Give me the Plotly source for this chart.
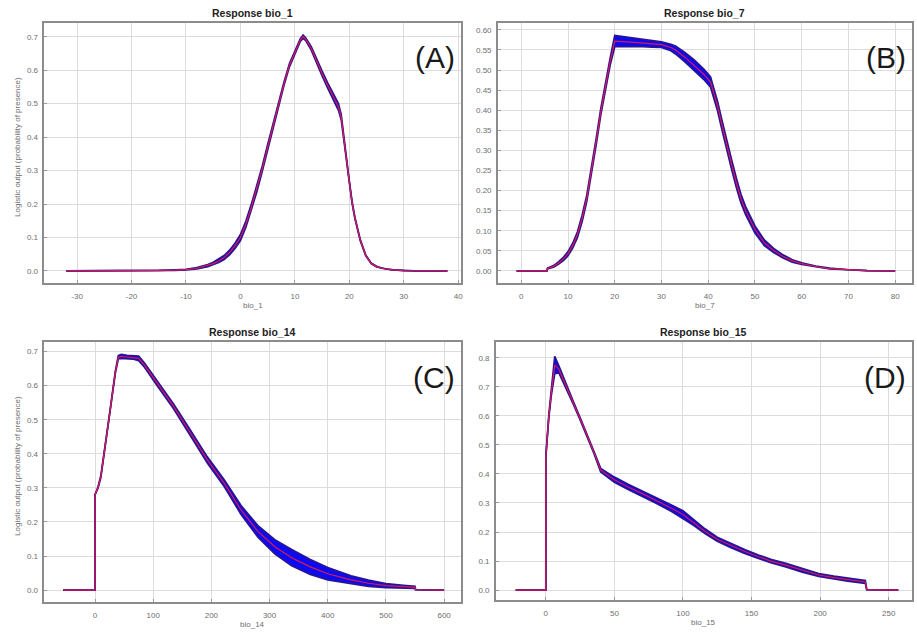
import plotly.graph_objects as go

W, H = 917, 634

# ---------------- data ----------------
titles = ["Response bio_1", "Response bio_7", "Response bio_14", "Response bio_15"]
xlabels = ["bio_1", "bio_7", "bio_14", "bio_15"]
panel_tags = ["(A)", "(B)", "(C)", "(D)"]
ylabel = "Logistic output (probability of presence)"

x_bio1 = [-32, -25, -20, -15, -12, -10, -8, -6, -5, -4,
          -3, -2, -1, 0, 1, 2, 3, 4, 5, 6,
          7, 8, 9, 10, 11, 11.5, 12, 13, 14, 15,
          16, 17, 18, 18.5, 19, 19.5, 20, 20.5, 21, 22,
          23, 24, 25, 26, 27, 28, 30, 32, 35, 38]
mean_bio1 = [0, 0, 0.0005, 0.0015, 0.0025, 0.004, 0.008, 0.016, 0.022, 0.03,
             0.04, 0.055, 0.075, 0.1, 0.14, 0.19, 0.245, 0.305, 0.37, 0.435,
             0.5, 0.56, 0.615, 0.655, 0.69, 0.7, 0.692, 0.665, 0.625, 0.59,
             0.555, 0.52, 0.49, 0.46, 0.39, 0.33, 0.265, 0.205, 0.16, 0.092,
             0.047, 0.023, 0.013, 0.008, 0.005, 0.003, 0.001, 0.0003, 0, 0]
sd_bio1 = [0, 0, 0, 0, 0.001, 0.001, 0.002, 0.003, 0.004, 0.005,
           0.006, 0.007, 0.008, 0.009, 0.009, 0.009, 0.009, 0.008, 0.008, 0.007,
           0.006, 0.005, 0.005, 0.004, 0.004, 0.005, 0.004, 0.005, 0.006, 0.007,
           0.008, 0.009, 0.01, 0.008, 0.005, 0.004, 0.003, 0.003, 0.002, 0.002,
           0.001, 0.001, 0.001, 0, 0, 0, 0, 0, 0, 0]

x_bio7 = [-1, 5.5, 5.6, 7, 8, 9, 10, 11, 12, 13,
          14, 15, 16, 17, 18, 19, 20, 22, 25, 28,
          30, 32, 33, 35, 37, 39, 40.5, 41, 42, 43,
          44, 45, 46, 47, 48, 50, 52, 54, 56, 58,
          60, 63, 66, 70, 74, 80]
mean_bio7 = [0, 0, 0.006, 0.012, 0.02, 0.03, 0.043, 0.063, 0.09, 0.13,
             0.18, 0.245, 0.32, 0.395, 0.46, 0.52, 0.572, 0.571, 0.568, 0.565,
             0.563, 0.556, 0.55, 0.532, 0.512, 0.49, 0.47, 0.45, 0.41, 0.36,
             0.31, 0.265, 0.22, 0.18, 0.15, 0.103, 0.07, 0.051, 0.036, 0.025,
             0.018, 0.011, 0.006, 0.003, 0.001, 0]
sd_bio7 = [0, 0, 0.001, 0.002, 0.003, 0.004, 0.005, 0.006, 0.007, 0.008,
           0.008, 0.008, 0.008, 0.008, 0.008, 0.009, 0.014, 0.012, 0.009, 0.008,
           0.007, 0.008, 0.01, 0.012, 0.013, 0.013, 0.013, 0.012, 0.012, 0.012,
           0.012, 0.012, 0.012, 0.011, 0.01, 0.009, 0.007, 0.005, 0.004, 0.003,
           0.002, 0.001, 0.001, 0, 0, 0]

x_bio14 = [-55, 0, 0.01, 5, 10, 15, 20, 25, 30, 35,
           40, 45, 55, 65, 75, 85, 106, 135, 164, 193,
           222, 251, 280, 309, 338, 370, 400, 440, 470, 500,
           530, 550, 551, 600]
mean_bio14 = [0, 0, 0.28, 0.3, 0.333, 0.39, 0.45, 0.515, 0.578, 0.64,
              0.683, 0.686, 0.684, 0.683, 0.68, 0.66, 0.608, 0.539, 0.461, 0.382,
              0.314, 0.235, 0.172, 0.127, 0.095, 0.068, 0.048, 0.03, 0.02, 0.013,
              0.01, 0.008, 0.001, 0]
sd_bio14 = [0, 0, 0, 0.002, 0.003, 0.002, 0.002, 0.002, 0.002, 0.003,
            0.005, 0.006, 0.005, 0.005, 0.007, 0.006, 0.006, 0.007, 0.008, 0.009,
            0.01, 0.013, 0.017, 0.021, 0.024, 0.022, 0.018, 0.012, 0.009, 0.006,
            0.004, 0.003, 0, 0]

x_bio15 = [-22, 0, 0.01, 1, 2.2, 4, 6.5, 9.5, 15, 20,
           25, 30, 35, 40, 50, 60, 70, 80, 92, 100,
           108, 116, 125, 135, 145, 155, 164, 175, 187, 199,
           210, 220, 233, 234, 257]
mean_bio15 = [0, 0, 0.46, 0.53, 0.6, 0.68, 0.775, 0.76, 0.7, 0.645,
              0.59, 0.535, 0.475, 0.413, 0.38, 0.355, 0.333, 0.31, 0.281, 0.26,
              0.232, 0.203, 0.175, 0.153, 0.133, 0.115, 0.1, 0.086, 0.068, 0.052,
              0.043, 0.036, 0.028, 0.002, 0]
sd_bio15 = [0, 0, 0, 0.003, 0.005, 0.01, 0.03, 0.012, 0.006, 0.005,
            0.004, 0.004, 0.004, 0.006, 0.009, 0.009, 0.009, 0.01, 0.011, 0.013,
            0.01, 0.008, 0.007, 0.007, 0.007, 0.006, 0.006, 0.006, 0.006, 0.005,
            0.005, 0.005, 0.005, 0, 0]

xticks = [list(range(-30, 41, 10)), list(range(0, 81, 10)),
          list(range(0, 601, 100)), list(range(0, 251, 50))]
yticks = [[i / 10 for i in range(0, 8)], [i / 20 for i in range(0, 13)],
          [i / 10 for i in range(0, 8)], [i / 10 for i in range(0, 9)]]
yfmt = ["{:.1f}", "{:.2f}", "{:.1f}", "{:.1f}"]

series = [(x_bio1, mean_bio1, sd_bio1), (x_bio7, mean_bio7, sd_bio7),
          (x_bio14, mean_bio14, sd_bio14), (x_bio15, mean_bio15, sd_bio15)]

# ---------------- layout geometry (pixels) ----------------
xr = [[-36, 40.5], [-5, 83.6], [-87, 629], [-36.4, 267]]
yr = [[-0.036, 0.741], [-0.03, 0.617], [-0.035, 0.728], [-0.034, 0.854]]
px_x = [(44.5, 462), (499, 914), (44.5, 462), (497, 914)]
px_y = [(23, 283), (23, 283), (342, 602), (342, 600)]

FONT = "Liberation Sans, Arial, sans-serif"
fig = go.Figure()
layout = dict(width=W, height=H, margin=dict(l=0, r=0, t=0, b=0),
              paper_bgcolor="white", plot_bgcolor="white", showlegend=False,
              annotations=[])

BLUE_FILL = "rgb(12,10,240)"
BLUE_EDGE = "rgb(40,20,150)"
RED = "rgb(220,25,80)"

for i, (xs, ms, sds) in enumerate(series):
    n = "" if i == 0 else str(i + 1)
    lo = [m - s for m, s in zip(ms, sds)]
    hi = [m + s for m, s in zip(ms, sds)]
    fig.add_trace(go.Scatter(x=xs, y=lo, mode="lines", xaxis="x" + n, yaxis="y" + n,
                             line=dict(color=BLUE_EDGE, width=1.7), hoverinfo="skip"))
    fig.add_trace(go.Scatter(x=xs, y=hi, mode="lines", xaxis="x" + n, yaxis="y" + n,
                             fill="tonexty", fillcolor=BLUE_FILL,
                             line=dict(color=BLUE_EDGE, width=1.7), hoverinfo="skip"))
    fig.add_trace(go.Scatter(x=xs, y=ms, mode="lines", xaxis="x" + n, yaxis="y" + n,
                             line=dict(color=RED, width=1.2)))

    x0, x1 = px_x[i]
    y0, y1 = px_y[i]
    dx = [x0 / W, x1 / W]
    dy = [1 - y1 / H, 1 - y0 / H]
    axcommon = dict(showgrid=True, gridcolor="#dcdcdc", gridwidth=1, zeroline=False,
                    showline=True, linecolor="#8c8c8c", linewidth=1.5, mirror=True,
                    ticks="inside", ticklen=3, tickcolor="#9a9a9a",
                    tickfont=dict(family=FONT, size=8, color="#6e6e6e"))
    layout["xaxis" + n] = dict(domain=dx, range=xr[i], tickvals=xticks[i],
                               ticktext=[str(v) for v in xticks[i]],
                               anchor="y" + n, ticklabelstandoff=5, **axcommon)
    layout["yaxis" + n] = dict(domain=dy, range=yr[i], tickvals=yticks[i],
                               ticktext=[yfmt[i].format(v) for v in yticks[i]],
                               anchor="x" + n, ticklabelstandoff=3, **axcommon)
    cx = (x0 + x1) / 2 / W
    # title
    layout["annotations"].append(dict(
        text="<b>" + titles[i] + "</b>", x=cx, y=1 - (y0 - 10) / H, xref="paper",
        yref="paper", showarrow=False, xanchor="center", yanchor="middle",
        font=dict(family=FONT, size=10.5, color="#222")))
    # x label
    layout["annotations"].append(dict(
        text=xlabels[i], x=cx, y=1 - (y1 + 22) / H, xref="paper", yref="paper",
        showarrow=False, xanchor="center", yanchor="middle",
        font=dict(family=FONT, size=8, color="#6e6e6e")))
    # panel tag
    layout["annotations"].append(dict(
        text=panel_tags[i], x=(x1 - 4) / W, y=1 - (y0 + 35) / H, xref="paper",
        yref="paper", showarrow=False, xanchor="right", yanchor="middle",
        font=dict(family=FONT, size=30, color="#1a1a1a")))
    # y label (left column only)
    if i in (0, 2):
        layout["annotations"].append(dict(
            text=ylabel, x=17 / W, y=1 - ((y0 + y1) / 2 - 6) / H, xref="paper",
            yref="paper", showarrow=False, textangle=-90, xanchor="center",
            yanchor="middle", font=dict(family=FONT, size=8, color="#6e6e6e")))

fig.update_layout(**layout)
fig.write_html("out.html", config={"displayModeBar": False},
               post_script="document.body.style.margin='0';document.body.style.overflow='hidden';")
